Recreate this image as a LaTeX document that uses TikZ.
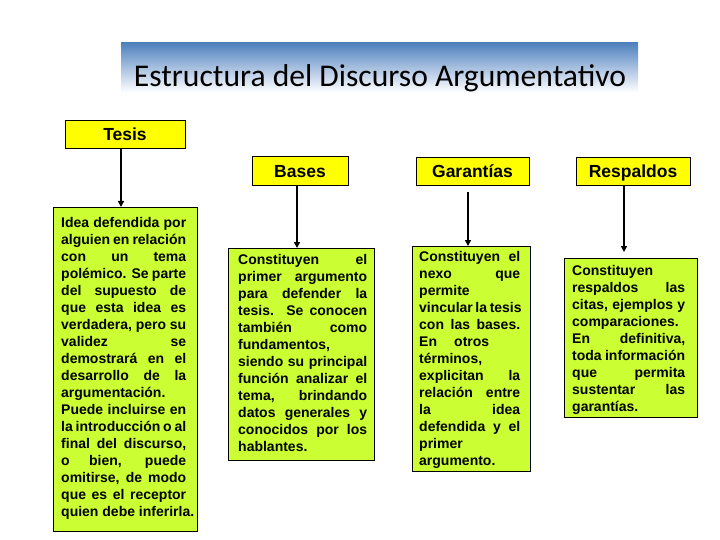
\documentclass[tikz,border=0pt]{standalone}
\usepackage{fontspec}
\setmainfont{Liberation Sans}
\newfontfamily\titlefont{Carlito}
\usetikzlibrary{arrows.meta}
\definecolor{headyellow}{HTML}{FFFF00}
\definecolor{bodygreen}{HTML}{CCFF33}
\definecolor{bannerblue}{RGB}{79,129,189}
\definecolor{bannerlight}{RGB}{190,208,232}
\pgfdeclareverticalshading{bannershade}{100bp}{color(0bp)=(white); color(25bp)=(white); color(38bp)=(white); color(52bp)=(bannerlight); color(75bp)=(bannerblue); color(100bp)=(bannerblue)}
\newcommand\jl[1]{\makebox[\linewidth][s]{#1}\\}
\tikzset{
  headbox/.style={draw=black, fill=headyellow, line width=0.8pt, inner sep=0pt,
    text height=12.5pt, text depth=0pt,
    font=\fontsize{17.5}{20}\selectfont\bfseries},
  bodybox/.style={draw=black, fill=bodygreen, line width=0.8pt, inner sep=0pt, anchor=north west},
  bodytext/.style={inner sep=0pt, anchor=north west, font=\fontsize{14}{17}\selectfont\bfseries},
  arr/.style={line width=1.8pt, -{Triangle[length=6pt,width=6pt]}}
}
\begin{document}
\begin{tikzpicture}[x=1pt,y=-1pt]
\useasboundingbox (0,0) rectangle (720,540);
\fill[white] (0,0) rectangle (720,540);
% banner
\shade[shading=bannershade] (121,43) rectangle (638,110);
\node[font=\titlefont\fontsize{31.6}{36}\selectfont, anchor=base, inner sep=0pt] (title) at (380,87) {Estructura del Discurso Argumentativo};
% headers
\node[headbox, minimum width=120pt, minimum height=28pt] (tesis) at (125,134) {Tesis};
\node[headbox, minimum width=96pt, minimum height=29pt] (bases) at (300,171) {Bases};
\node[headbox, minimum width=113pt, minimum height=28pt] (garan) at (472.5,171) {Garantías};
\node[headbox, minimum width=114pt, minimum height=28pt] (respa) at (633,171) {Respaldos};
% body boxes
\node[bodybox, minimum width=144pt, minimum height=324pt] (ideabox) at (53,207) {};
\node[bodybox, minimum width=146pt, minimum height=212pt] (basebox) at (228,248) {};
\node[bodybox, minimum width=118pt, minimum height=225pt] (garbox) at (412,246) {};
\node[bodybox, minimum width=133pt, minimum height=159pt] (resbox) at (564,258) {};
% texts
\node[bodytext] (ideatext) at ([xshift=8pt,yshift=-10pt]ideabox.north west) {\parbox{125pt}{%
\jl{Idea defendida por}
\jl{alguien en relación}
\jl{con un tema}
\jl{polémico. Se parte}
\jl{del supuesto de}
\jl{que esta idea es}
\jl{verdadera, pero su}
\jl{validez se}
\jl{demostrará en el}
\jl{desarrollo de la}
argumentación.\\
\jl{Puede incluirse en}
\jl{la introducción o al}
\jl{final del discurso,}
\jl{o bien, puede}
\jl{omitirse, de modo}
\jl{que es el receptor}
\makebox[\linewidth][l]{quien debe inferirla.}}};
\node[bodytext] (basetext) at ([xshift=10pt,yshift=-6pt]basebox.north west) {\parbox{129pt}{%
\jl{Constituyen el}
\jl{primer argumento}
\jl{para defender la}
\jl{tesis. Se conocen}
\jl{también como}
fundamentos,\\
\jl{siendo su principal}
\jl{función analizar el}
\jl{tema, brindando}
\jl{datos generales y}
\jl{conocidos por los}
hablantes.}};
\node[bodytext] (gartext) at ([xshift=7pt,yshift=-5pt]garbox.north west) {\parbox{101pt}{%
\jl{Constituyen el}
\jl{nexo que}
permite\\
\jl{vincular la tesis}
\jl{con las bases.}
\makebox[70pt][s]{En otros}\\
términos,\\
\jl{explicitan la}
\jl{relación entre}
\jl{la idea}
\jl{defendida y el}
primer\\
argumento.}};
\node[bodytext] (restext) at ([xshift=8pt,yshift=-7pt]resbox.north west) {\parbox{113pt}{%
Constituyen\\
\jl{respaldos las}
\jl{citas, ejemplos y}
comparaciones.\\
\jl{En definitiva,}
\jl{toda información}
\jl{que permita}
\jl{sustentar las}
garantías.}};
% arrows
\coordinate (ax1) at (121,0);
\coordinate (ax2) at (297,0);
\coordinate (ax3) at (468,0);
\coordinate (ax4) at (624,0);
\draw[arr] (tesis.south -| ax1) -- (ideabox.north -| ax1);
\draw[arr] (bases.south -| ax2) -- (basebox.north -| ax2);
\draw[arr] ([yshift=-7pt]garan.south -| ax3) -- (garbox.north -| ax3);
\draw[arr] (respa.south -| ax4) -- ([yshift=6pt]resbox.north -| ax4);
\end{tikzpicture}
\end{document}
